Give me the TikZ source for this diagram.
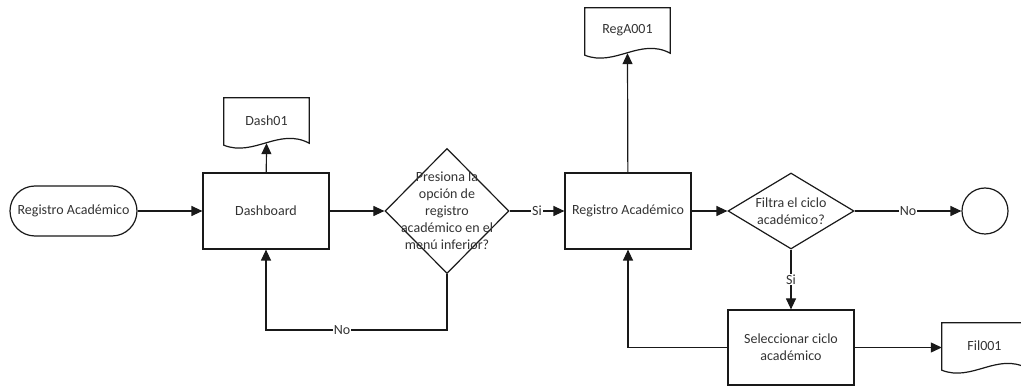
\documentclass[tikz,border=0pt]{standalone}
\usepackage{fontspec}
\setmainfont{Carlito}
\usetikzlibrary{arrows.meta,shapes.geometric,calc}

% document symbol: flat top, wavy bottom edge
\newcommand\docshape[1]{%
  \draw[base] (#1.north west) -- (#1.north east) -- (#1.south east)
    .. controls ($(#1.south east)+(-30,-16)$) and ($(#1.south west)+(30,14)$) ..
    ($(#1.south west)+(0,2)$) -- cycle;}

\begin{document}
\begin{tikzpicture}[x=1pt,y=-1pt,
  every node/.style={font=\fontsize{14}{17}\selectfont, text=black!80},
  base/.style={draw=black!90, line width=1.2pt},
  proc/.style={base, rectangle, minimum width=126pt, minimum height=76pt, align=center, inner sep=0pt},
  term/.style={base, rectangle, rounded corners=25pt, minimum width=127pt, minimum height=50pt, inner sep=0pt},
  decision/.style={base, diamond, inner sep=0pt},
  endc/.style={base, circle, minimum size=46pt, inner sep=0pt},
  docbox/.style={rectangle, minimum width=85pt, minimum height=45pt, inner sep=0pt},
  flow/.style={line width=1.2pt, draw=black!90, -{Triangle[length=11pt,width=10pt]}},
  lbl/.style={fill=white, inner sep=1pt},
]
\clip (0,0) rectangle (1021,387);

% shapes
\node[term] (start) at (73.5,211) {Registro Académico};
\node[proc] (dash) at (266,211) {Dashboard};
\node[docbox] (dash01) at (266.5,120.5) {Dash01};
\docshape{dash01}

\node[decision, minimum width=124pt, minimum height=125pt] (d1) at (447,211) {};
\node[align=center, inner sep=0pt] (d1text) at (d1.center)
  {Presiona la\\opción de\\registro\\académico en el\\menú inferior?};

\node[proc] (reg) at (628,211) {Registro Académico};
\node[docbox] (rega) at (627.5,30.5) {RegA001};
\docshape{rega}

\node[decision, minimum width=126pt, minimum height=76pt] (d2) at (791,211) {};
\node[align=center, inner sep=0pt] (d2text) at (d2.center) {Filtra el ciclo\\académico?};

\node[endc] (fin) at (985,211) {};

\node[proc, minimum height=75pt] (sel) at (791,347.5) {Seleccionar ciclo\\académico};
\node[docbox] (fil) at (984.5,345.5) {Fil001};
\docshape{fil}

\coordinate (loopL) at (266,330);

% connectors
\draw[flow] (start) -- (dash);
\draw[flow] (dash) -- (d1);
\draw[flow] (dash) -- (dash01.south);
\draw[flow] (d1) -- node[lbl]{Si} (reg);
\draw[flow] (reg) -- (rega.south);
\draw[flow] (reg) -- (d2);
\draw[flow] (d2) -- node[lbl]{No} (fin);
\draw[flow] (d2) -- node[lbl]{Si} (sel);
\draw[flow] (sel.east) -- (sel.east -| fil.west);
\draw[flow] (d1.south) |- node[lbl, pos=0.79]{No} (loopL) -- (dash.south);
\draw[flow] (sel.west) -| (reg.south);
\end{tikzpicture}
\end{document}
